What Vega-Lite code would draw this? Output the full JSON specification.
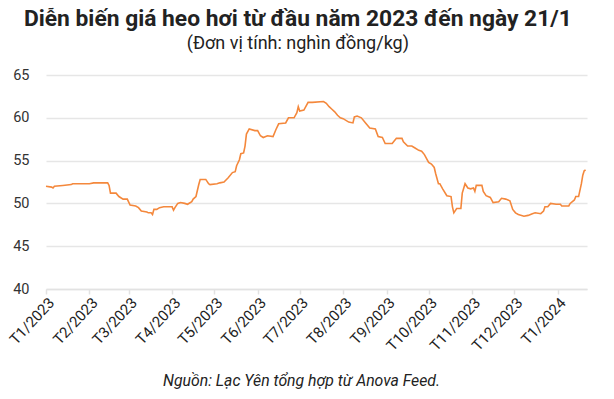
{
  "$schema": "https://vega.github.io/schema/vega-lite/v6.json",
  "width": 541,
  "height": 214,
  "padding": {"left": 6, "top": 8, "right": 5, "bottom": 5},
  "background": "white",
  "config": {
    "font": "Roboto",
    "view": {"stroke": null}
  },
  "title": {
    "text": "Diễn biến giá heo hơi từ đầu năm 2023 đến ngày 21/1",
    "subtitle": "(Đơn vị tính: nghìn đồng/kg)",
    "anchor": "middle",
    "frame": "bounds",
    "font": "Roboto",
    "fontSize": 22.8,
    "fontWeight": "bold",
    "color": "#222222",
    "subtitleFont": "Roboto",
    "subtitleFontSize": 18,
    "subtitleColor": "#222222",
    "subtitlePadding": 4,
    "offset": 14
  },
  "data": {
    "values": [
      {"date": "2023-01-01", "price": 52.0},
      {"date": "2023-01-05", "price": 51.9},
      {"date": "2023-01-06", "price": 51.8},
      {"date": "2023-01-07", "price": 52.0},
      {"date": "2023-01-13", "price": 52.1},
      {"date": "2023-01-19", "price": 52.2},
      {"date": "2023-01-20", "price": 52.3},
      {"date": "2023-02-01", "price": 52.3},
      {"date": "2023-02-04", "price": 52.4},
      {"date": "2023-02-14", "price": 52.4},
      {"date": "2023-02-15", "price": 52.1},
      {"date": "2023-02-16", "price": 51.2},
      {"date": "2023-02-20", "price": 51.2},
      {"date": "2023-02-22", "price": 50.8},
      {"date": "2023-02-25", "price": 50.5},
      {"date": "2023-02-28", "price": 50.5},
      {"date": "2023-03-02", "price": 49.8},
      {"date": "2023-03-06", "price": 49.7},
      {"date": "2023-03-08", "price": 49.5},
      {"date": "2023-03-10", "price": 49.1},
      {"date": "2023-03-14", "price": 49.0},
      {"date": "2023-03-15", "price": 48.9},
      {"date": "2023-03-17", "price": 48.9},
      {"date": "2023-03-18", "price": 48.7},
      {"date": "2023-03-19", "price": 49.3},
      {"date": "2023-03-21", "price": 49.3},
      {"date": "2023-03-23", "price": 49.5},
      {"date": "2023-03-26", "price": 49.6},
      {"date": "2023-04-01", "price": 49.6},
      {"date": "2023-04-02", "price": 49.2},
      {"date": "2023-04-03", "price": 49.5},
      {"date": "2023-04-05", "price": 50.0},
      {"date": "2023-04-07", "price": 50.1},
      {"date": "2023-04-10", "price": 50.0},
      {"date": "2023-04-12", "price": 49.9},
      {"date": "2023-04-15", "price": 50.2},
      {"date": "2023-04-16", "price": 50.5},
      {"date": "2023-04-18", "price": 50.8},
      {"date": "2023-04-20", "price": 52.2},
      {"date": "2023-04-21", "price": 52.8},
      {"date": "2023-04-25", "price": 52.8},
      {"date": "2023-04-27", "price": 52.3},
      {"date": "2023-04-28", "price": 52.2},
      {"date": "2023-05-03", "price": 52.3},
      {"date": "2023-05-05", "price": 52.4},
      {"date": "2023-05-08", "price": 52.5},
      {"date": "2023-05-11", "price": 53.0},
      {"date": "2023-05-14", "price": 53.6},
      {"date": "2023-05-16", "price": 53.7},
      {"date": "2023-05-17", "price": 54.4},
      {"date": "2023-05-19", "price": 55.1},
      {"date": "2023-05-20", "price": 55.8},
      {"date": "2023-05-22", "price": 55.9},
      {"date": "2023-05-23", "price": 56.7},
      {"date": "2023-05-24", "price": 58.1},
      {"date": "2023-05-26", "price": 58.7},
      {"date": "2023-05-30", "price": 58.5},
      {"date": "2023-06-01", "price": 58.5},
      {"date": "2023-06-03", "price": 57.9},
      {"date": "2023-06-05", "price": 57.7},
      {"date": "2023-06-08", "price": 57.9},
      {"date": "2023-06-12", "price": 57.8},
      {"date": "2023-06-14", "price": 58.6},
      {"date": "2023-06-16", "price": 59.3},
      {"date": "2023-06-21", "price": 59.4},
      {"date": "2023-06-23", "price": 60.0},
      {"date": "2023-06-27", "price": 60.0},
      {"date": "2023-06-29", "price": 60.6},
      {"date": "2023-06-30", "price": 61.3},
      {"date": "2023-07-01", "price": 60.8},
      {"date": "2023-07-04", "price": 60.9},
      {"date": "2023-07-07", "price": 61.8},
      {"date": "2023-07-10", "price": 61.8},
      {"date": "2023-07-18", "price": 61.9},
      {"date": "2023-07-20", "price": 61.7},
      {"date": "2023-07-22", "price": 61.3},
      {"date": "2023-07-24", "price": 61.0},
      {"date": "2023-07-26", "price": 60.7},
      {"date": "2023-07-28", "price": 60.3},
      {"date": "2023-07-30", "price": 60.0},
      {"date": "2023-08-01", "price": 59.9},
      {"date": "2023-08-05", "price": 59.5},
      {"date": "2023-08-08", "price": 59.4},
      {"date": "2023-08-09", "price": 60.1},
      {"date": "2023-08-11", "price": 60.2},
      {"date": "2023-08-14", "price": 60.0},
      {"date": "2023-08-17", "price": 59.4},
      {"date": "2023-08-20", "price": 58.8},
      {"date": "2023-08-24", "price": 58.7},
      {"date": "2023-08-26", "price": 57.8},
      {"date": "2023-08-29", "price": 57.7},
      {"date": "2023-08-31", "price": 57.0},
      {"date": "2023-09-05", "price": 57.0},
      {"date": "2023-09-07", "price": 57.4},
      {"date": "2023-09-08", "price": 57.6},
      {"date": "2023-09-12", "price": 57.6},
      {"date": "2023-09-13", "price": 57.2},
      {"date": "2023-09-16", "price": 56.7},
      {"date": "2023-09-19", "price": 56.7},
      {"date": "2023-09-21", "price": 56.5},
      {"date": "2023-09-24", "price": 56.2},
      {"date": "2023-09-26", "price": 56.1},
      {"date": "2023-09-28", "price": 55.7},
      {"date": "2023-10-01", "price": 54.8},
      {"date": "2023-10-03", "price": 54.6},
      {"date": "2023-10-05", "price": 54.2},
      {"date": "2023-10-06", "price": 53.5},
      {"date": "2023-10-08", "price": 52.3},
      {"date": "2023-10-09", "price": 52.3},
      {"date": "2023-10-11", "price": 51.7},
      {"date": "2023-10-14", "price": 50.9},
      {"date": "2023-10-17", "price": 50.8},
      {"date": "2023-10-18", "price": 49.6},
      {"date": "2023-10-19", "price": 48.9},
      {"date": "2023-10-21", "price": 49.4},
      {"date": "2023-10-24", "price": 49.4},
      {"date": "2023-10-25", "price": 51.2},
      {"date": "2023-10-27", "price": 52.3},
      {"date": "2023-10-29", "price": 51.8},
      {"date": "2023-10-31", "price": 51.7},
      {"date": "2023-11-02", "price": 51.8},
      {"date": "2023-11-03", "price": 51.4},
      {"date": "2023-11-04", "price": 52.1},
      {"date": "2023-11-08", "price": 52.1},
      {"date": "2023-11-09", "price": 51.4},
      {"date": "2023-11-11", "price": 50.9},
      {"date": "2023-11-14", "price": 50.7},
      {"date": "2023-11-16", "price": 50.1},
      {"date": "2023-11-20", "price": 50.2},
      {"date": "2023-11-22", "price": 50.6},
      {"date": "2023-11-25", "price": 50.5},
      {"date": "2023-11-28", "price": 50.3},
      {"date": "2023-11-30", "price": 49.3},
      {"date": "2023-12-02", "price": 48.9},
      {"date": "2023-12-04", "price": 48.7},
      {"date": "2023-12-08", "price": 48.5},
      {"date": "2023-12-11", "price": 48.6},
      {"date": "2023-12-14", "price": 48.8},
      {"date": "2023-12-16", "price": 48.9},
      {"date": "2023-12-20", "price": 48.8},
      {"date": "2023-12-22", "price": 49.1},
      {"date": "2023-12-23", "price": 49.6},
      {"date": "2023-12-25", "price": 49.6},
      {"date": "2023-12-27", "price": 50.0},
      {"date": "2023-12-31", "price": 49.9},
      {"date": "2024-01-03", "price": 49.9},
      {"date": "2024-01-04", "price": 49.7},
      {"date": "2024-01-09", "price": 49.7},
      {"date": "2024-01-10", "price": 50.0},
      {"date": "2024-01-13", "price": 50.4},
      {"date": "2024-01-14", "price": 50.8},
      {"date": "2024-01-16", "price": 50.8},
      {"date": "2024-01-18", "price": 52.3},
      {"date": "2024-01-19", "price": 53.3},
      {"date": "2024-01-20", "price": 53.8},
      {"date": "2024-01-21", "price": 53.9}
    ]
  },
  "mark": {"type": "line", "color": "#f4883c", "strokeWidth": 1.6, "interpolate": "linear"},
  "encoding": {
    "x": {
      "field": "date",
      "type": "temporal",
      "scale": {
        "type": "utc",
        "domain": [
          {"year": 2023, "month": 1, "date": 1, "utc": true},
          {"year": 2024, "month": 1, "date": 22, "utc": true}
        ]
      },
      "axis": {
        "title": "Nguồn: Lạc Yên tổng hợp từ Anova Feed.",
        "titleFont": "Roboto",
        "titleFontSize": 15.8,
        "titleFontWeight": "normal",
        "titleFontStyle": "italic",
        "titleColor": "#222222",
        "titleX": 255,
        "titleY": 96,
        "titleBaseline": "alphabetic",
        "titleAnchor": "middle",
        "titleAlign": "center",
        "values": [
          {"year": 2023, "month": 1, "date": 1, "utc": true},
          {"year": 2023, "month": 2, "date": 1, "utc": true},
          {"year": 2023, "month": 3, "date": 1, "utc": true},
          {"year": 2023, "month": 4, "date": 1, "utc": true},
          {"year": 2023, "month": 5, "date": 1, "utc": true},
          {"year": 2023, "month": 6, "date": 1, "utc": true},
          {"year": 2023, "month": 7, "date": 1, "utc": true},
          {"year": 2023, "month": 8, "date": 1, "utc": true},
          {"year": 2023, "month": 9, "date": 1, "utc": true},
          {"year": 2023, "month": 10, "date": 1, "utc": true},
          {"year": 2023, "month": 11, "date": 1, "utc": true},
          {"year": 2023, "month": 12, "date": 1, "utc": true},
          {"year": 2024, "month": 1, "date": 1, "utc": true}
        ],
        "labelExpr": "'T' + (utcmonth(datum.value) + 1) + '/' + utcyear(datum.value)",
        "labelAngle": -47,
        "labelAlign": "right",
        "labelBaseline": "top",
        "labelFont": "Roboto",
        "labelFontSize": 15,
        "labelColor": "#222222",
        "labelPadding": 1,
        "labelOverlap": false,
        "grid": false,
        "domainColor": "#e2e2e2",
        "domainWidth": 1.5,
        "tickColor": "#e2e2e2",
        "tickWidth": 1.5,
        "tickSize": 5
      }
    },
    "y": {
      "field": "price",
      "type": "quantitative",
      "scale": {"domain": [40, 65], "nice": false, "zero": false},
      "axis": {
        "title": null,
        "values": [40, 45, 50, 55, 60, 65],
        "labelFont": "Roboto",
        "labelFontSize": 14.5,
        "labelColor": "#333333",
        "labelPadding": 17,
        "domain": false,
        "ticks": false,
        "grid": true,
        "gridColor": "#e6e6e6",
        "gridWidth": 1.3
      }
    }
  }
}
